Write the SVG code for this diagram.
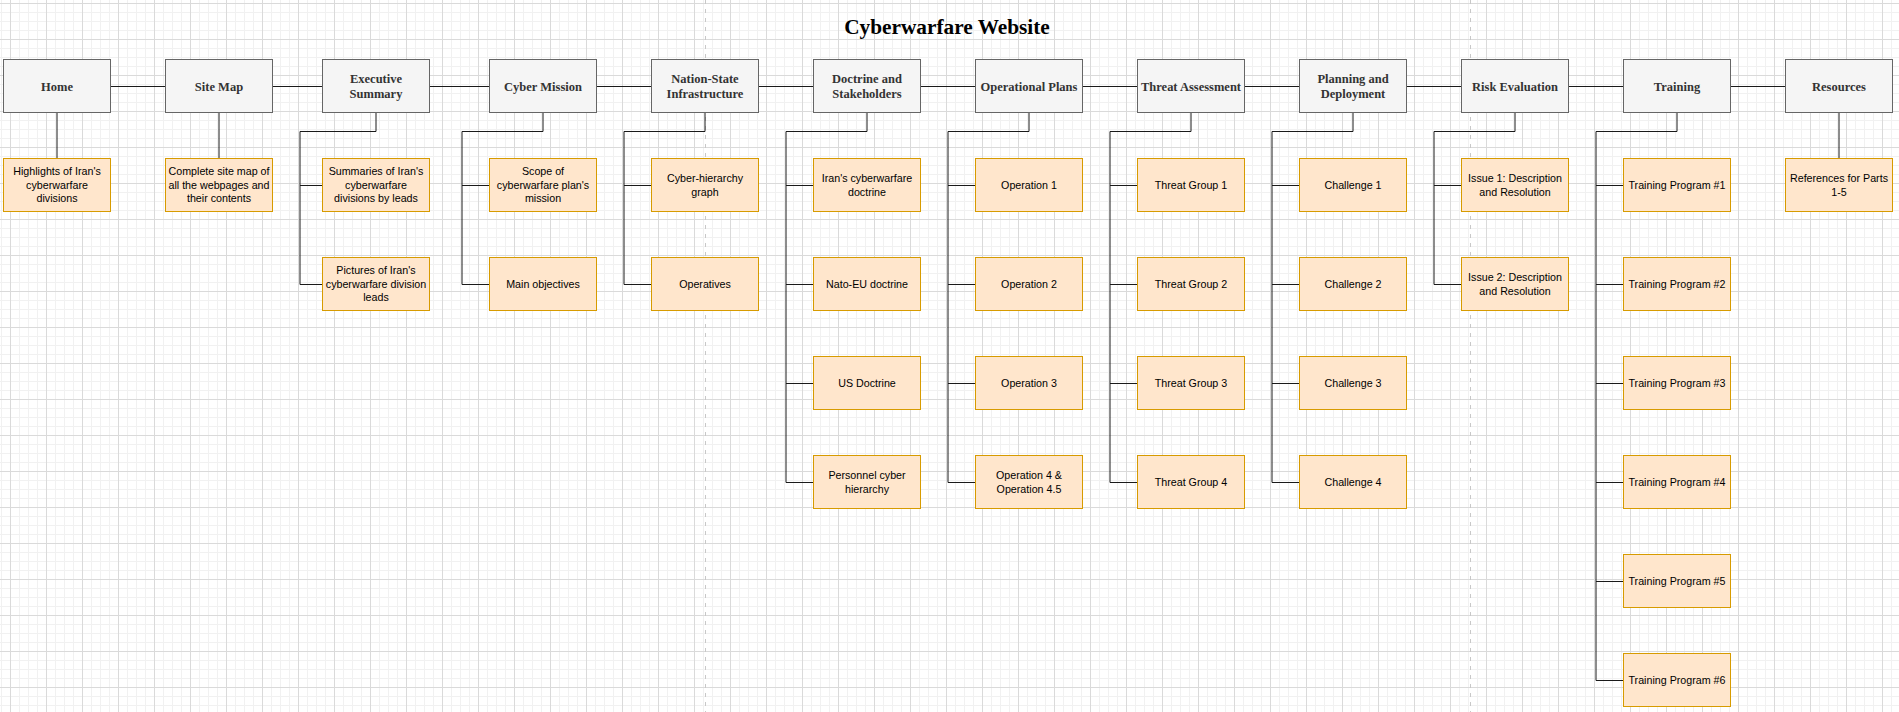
<svg xmlns="http://www.w3.org/2000/svg" width="1899" height="712" viewBox="0 0 1899 712">
<style>
.hdr rect{fill:#f5f5f5;stroke:#666666;stroke-width:1}
.hdr text{font-family:"Liberation Serif","Times New Roman",serif;font-weight:bold;font-size:12.5px;fill:#333333;text-anchor:middle}
.leaf rect{fill:#ffe6cc;stroke:#d79b00;stroke-width:1}
.leaf text{font-family:"Liberation Sans",Arial,sans-serif;font-size:10.7px;fill:#000000;text-anchor:middle}
.title{font-family:"Liberation Serif","Times New Roman",serif;font-weight:bold;font-size:21.3px;fill:#000000;text-anchor:middle}
#connectors path{fill:none;stroke:#1a1a1a;stroke-width:1}
.page{stroke:#c8c8c8;stroke-width:1;stroke-dasharray:4 5}
</style>
<defs>
<pattern id="grid" patternUnits="userSpaceOnUse" x="10" y="3" width="36" height="36">
<path d="M9.5 0V36M18.5 0V36M27.5 0V36M0 9.5H36M0 18.5H36M0 27.5H36" stroke="#f1f1f1" stroke-width="1" fill="none"/>
<path d="M0.5 0V36M0 0.5H36" stroke="#dadada" stroke-width="1" fill="none"/>
</pattern>
</defs>
<rect width="1899" height="712" fill="#ffffff"/>
<rect width="1899" height="712" fill="url(#grid)"/>
<line class="page" x1="705.5" y1="0" x2="705.5" y2="712"/>
<line class="page" x1="1470.5" y1="0" x2="1470.5" y2="712"/>
<text class="title" x="947" y="34">Cyberwarfare Website</text>
<g id="connectors">
<path d="M111 86.5H165M273 86.5H322M430 86.5H489M597 86.5H651M759 86.5H813M921 86.5H975M1083 86.5H1137M1245 86.5H1299M1407 86.5H1461M1569 86.5H1623M1731 86.5H1785"/>
<path d="M57 113V158M219 113V158M1839 113V158"/>
<path d="M376 113V131.5H300V284.5M300 185.5H322M300 284.5H322"/>
<path d="M543 113V131.5H462V284.5M462 185.5H489M462 284.5H489"/>
<path d="M705 113V131.5H624V284.5M624 185.5H651M624 284.5H651"/>
<path d="M867 113V131.5H786V482.5M786 185.5H813M786 284.5H813M786 383.5H813M786 482.5H813"/>
<path d="M1029 113V131.5H948V482.5M948 185.5H975M948 284.5H975M948 383.5H975M948 482.5H975"/>
<path d="M1191 113V131.5H1110V482.5M1110 185.5H1137M1110 284.5H1137M1110 383.5H1137M1110 482.5H1137"/>
<path d="M1353 113V131.5H1272V482.5M1272 185.5H1299M1272 284.5H1299M1272 383.5H1299M1272 482.5H1299"/>
<path d="M1515 113V131.5H1434V284.5M1434 185.5H1461M1434 284.5H1461"/>
<path d="M1677 113V131.5H1596V680.5M1596 185.5H1623M1596 284.5H1623M1596 383.5H1623M1596 482.5H1623M1596 581.5H1623M1596 680.5H1623"/>
</g>
<g id="home" class="hdr"><rect x="3.5" y="59.5" width="107" height="53"/><text x="57" y="90.5">Home</text></g>
<g id="sitemap" class="hdr"><rect x="165.5" y="59.5" width="107" height="53"/><text x="219" y="90.5">Site Map</text></g>
<g id="exec" class="hdr"><rect x="322.5" y="59.5" width="107" height="53"/><text x="376" y="83">Executive</text><text x="376" y="98">Summary</text></g>
<g id="mission" class="hdr"><rect x="489.5" y="59.5" width="107" height="53"/><text x="543" y="90.5">Cyber Mission</text></g>
<g id="nation" class="hdr"><rect x="651.5" y="59.5" width="107" height="53"/><text x="705" y="83">Nation-State</text><text x="705" y="98">Infrastructure</text></g>
<g id="doctrine" class="hdr"><rect x="813.5" y="59.5" width="107" height="53"/><text x="867" y="83">Doctrine and</text><text x="867" y="98">Stakeholders</text></g>
<g id="opplans" class="hdr"><rect x="975.5" y="59.5" width="107" height="53"/><text x="1029" y="90.5">Operational Plans</text></g>
<g id="threat" class="hdr"><rect x="1137.5" y="59.5" width="107" height="53"/><text x="1191" y="90.5" textLength="100" lengthAdjust="spacingAndGlyphs">Threat Assessment</text></g>
<g id="planning" class="hdr"><rect x="1299.5" y="59.5" width="107" height="53"/><text x="1353" y="83">Planning and</text><text x="1353" y="98">Deployment</text></g>
<g id="risk" class="hdr"><rect x="1461.5" y="59.5" width="107" height="53"/><text x="1515" y="90.5">Risk Evaluation</text></g>
<g id="training" class="hdr"><rect x="1623.5" y="59.5" width="107" height="53"/><text x="1677" y="90.5">Training</text></g>
<g id="resources" class="hdr"><rect x="1785.5" y="59.5" width="107" height="53"/><text x="1839" y="90.5">Resources</text></g>

<g id="home-1" class="leaf"><rect x="3.5" y="158.5" width="107" height="53"/><text x="57" y="175.4">Highlights of Iran's</text><text x="57" y="188.8">cyberwarfare</text><text x="57" y="202.2">divisions</text></g>
<g id="sitemap-1" class="leaf"><rect x="165.5" y="158.5" width="107" height="53"/><text x="219" y="175.4">Complete site map of</text><text x="219" y="188.8">all the webpages and</text><text x="219" y="202.2">their contents</text></g>
<g id="exec-1" class="leaf"><rect x="322.5" y="158.5" width="107" height="53"/><text x="376" y="175.4">Summaries of Iran's</text><text x="376" y="188.8">cyberwarfare</text><text x="376" y="202.2">divisions by leads</text></g>
<g id="exec-2" class="leaf"><rect x="322.5" y="257.5" width="107" height="53"/><text x="376" y="274.4">Pictures of Iran's</text><text x="376" y="287.8">cyberwarfare division</text><text x="376" y="301.2">leads</text></g>
<g id="mission-1" class="leaf"><rect x="489.5" y="158.5" width="107" height="53"/><text x="543" y="175.4">Scope of</text><text x="543" y="188.8">cyberwarfare plan's</text><text x="543" y="202.2">mission</text></g>
<g id="mission-2" class="leaf"><rect x="489.5" y="257.5" width="107" height="53"/><text x="543" y="288.3">Main objectives</text></g>
<g id="nation-1" class="leaf"><rect x="651.5" y="158.5" width="107" height="53"/><text x="705" y="182.1">Cyber-hierarchy</text><text x="705" y="195.5">graph</text></g>
<g id="nation-2" class="leaf"><rect x="651.5" y="257.5" width="107" height="53"/><text x="705" y="288.3">Operatives</text></g>
<g id="doctrine-1" class="leaf"><rect x="813.5" y="158.5" width="107" height="53"/><text x="867" y="182.1">Iran's cyberwarfare</text><text x="867" y="195.5">doctrine</text></g>
<g id="doctrine-2" class="leaf"><rect x="813.5" y="257.5" width="107" height="53"/><text x="867" y="288.3">Nato-EU doctrine</text></g>
<g id="doctrine-3" class="leaf"><rect x="813.5" y="356.5" width="107" height="53"/><text x="867" y="387.3">US Doctrine</text></g>
<g id="doctrine-4" class="leaf"><rect x="813.5" y="455.5" width="107" height="53"/><text x="867" y="479.1">Personnel cyber</text><text x="867" y="492.5">hierarchy</text></g>
<g id="op-1" class="leaf"><rect x="975.5" y="158.5" width="107" height="53"/><text x="1029" y="189.3">Operation 1</text></g>
<g id="op-2" class="leaf"><rect x="975.5" y="257.5" width="107" height="53"/><text x="1029" y="288.3">Operation 2</text></g>
<g id="op-3" class="leaf"><rect x="975.5" y="356.5" width="107" height="53"/><text x="1029" y="387.3">Operation 3</text></g>
<g id="op-4" class="leaf"><rect x="975.5" y="455.5" width="107" height="53"/><text x="1029" y="479.1">Operation 4 &amp;</text><text x="1029" y="492.5">Operation 4.5</text></g>
<g id="threat-1" class="leaf"><rect x="1137.5" y="158.5" width="107" height="53"/><text x="1191" y="189.3">Threat Group 1</text></g>
<g id="threat-2" class="leaf"><rect x="1137.5" y="257.5" width="107" height="53"/><text x="1191" y="288.3">Threat Group 2</text></g>
<g id="threat-3" class="leaf"><rect x="1137.5" y="356.5" width="107" height="53"/><text x="1191" y="387.3">Threat Group 3</text></g>
<g id="threat-4" class="leaf"><rect x="1137.5" y="455.5" width="107" height="53"/><text x="1191" y="486.3">Threat Group 4</text></g>
<g id="plan-1" class="leaf"><rect x="1299.5" y="158.5" width="107" height="53"/><text x="1353" y="189.3">Challenge 1</text></g>
<g id="plan-2" class="leaf"><rect x="1299.5" y="257.5" width="107" height="53"/><text x="1353" y="288.3">Challenge 2</text></g>
<g id="plan-3" class="leaf"><rect x="1299.5" y="356.5" width="107" height="53"/><text x="1353" y="387.3">Challenge 3</text></g>
<g id="plan-4" class="leaf"><rect x="1299.5" y="455.5" width="107" height="53"/><text x="1353" y="486.3">Challenge 4</text></g>
<g id="risk-1" class="leaf"><rect x="1461.5" y="158.5" width="107" height="53"/><text x="1515" y="182.1">Issue 1: Description</text><text x="1515" y="195.5">and Resolution</text></g>
<g id="risk-2" class="leaf"><rect x="1461.5" y="257.5" width="107" height="53"/><text x="1515" y="281.1">Issue 2: Description</text><text x="1515" y="294.5">and Resolution</text></g>
<g id="train-1" class="leaf"><rect x="1623.5" y="158.5" width="107" height="53"/><text x="1677" y="189.3">Training Program #1</text></g>
<g id="train-2" class="leaf"><rect x="1623.5" y="257.5" width="107" height="53"/><text x="1677" y="288.3">Training Program #2</text></g>
<g id="train-3" class="leaf"><rect x="1623.5" y="356.5" width="107" height="53"/><text x="1677" y="387.3">Training Program #3</text></g>
<g id="train-4" class="leaf"><rect x="1623.5" y="455.5" width="107" height="53"/><text x="1677" y="486.3">Training Program #4</text></g>
<g id="train-5" class="leaf"><rect x="1623.5" y="554.5" width="107" height="53"/><text x="1677" y="585.3">Training Program #5</text></g>
<g id="train-6" class="leaf"><rect x="1623.5" y="653.5" width="107" height="53"/><text x="1677" y="684.3">Training Program #6</text></g>
<g id="resources-1" class="leaf"><rect x="1785.5" y="158.5" width="107" height="53"/><text x="1839" y="182.1">References for Parts</text><text x="1839" y="195.5">1-5</text></g>
</svg>
